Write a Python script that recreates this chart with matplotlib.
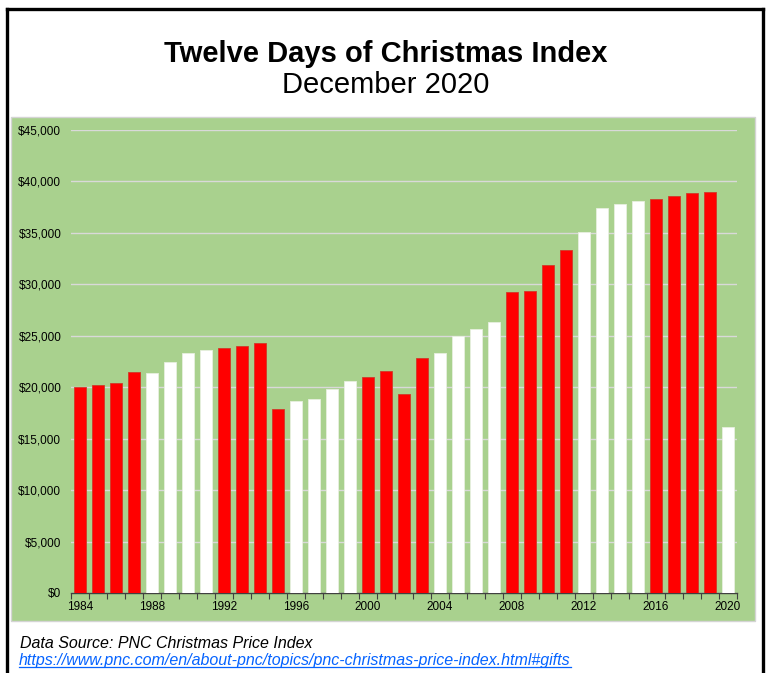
"""Twelve Days of Christmas Index bar chart."""

import matplotlib

matplotlib.use("Agg")
import matplotlib.pyplot as plt
from matplotlib.lines import Line2D
from matplotlib.patches import Rectangle
from matplotlib.ticker import FuncFormatter, MultipleLocator
import numpy as np

years = list(range(1984, 2021))
index_values = [
    20050, 20215, 20380, 21480, 21380, 22450, 23330, 23620, 23810, 24000,
    24300, 17880, 18660, 18850, 19830, 20600, 20960, 21580, 19370, 22840,
    23330, 24980, 25630, 26310, 29250, 29350, 31880, 33340, 35120, 37390,
    37780, 38100, 38290, 38580, 38880, 38940, 16130,
]
red_years = [1984, 1985, 1986, 1987, 1992, 1993, 1994, 1995, 2000, 2001,
             2002, 2003, 2008, 2009, 2010, 2011, 2016, 2017, 2018, 2019]
label_years = list(range(1984, 2021, 4))

W, H = 772, 673
fig = plt.figure(figsize=(W / 100, H / 100), dpi=100)
plt.rcParams["font.family"] = ["Liberation Sans", "DejaVu Sans"]


def fx(px):
    return px / W


def fy(py):
    return 1 - py / H


# outer frame (bottom edge runs off the picture)
for xs, ys in [((7, 7), (H + 5, 9)), ((7, 763), (9, 9)), ((763, 763), (9, H + 5))]:
    fig.add_artist(Line2D([fx(x) for x in xs], [fy(y) for y in ys],
                          color="black", linewidth=2.4, solid_capstyle="projecting"))

# green panel behind the plot
fig.add_artist(Rectangle((fx(11), fy(621)), fx(755) - fx(11), fy(117) - fy(621),
                         facecolor="#A9D18E", edgecolor="#D4D4D4", linewidth=1.0,
                         zorder=0))

fig.text(0.5, fy(62), "Twelve Days of Christmas Index", ha="center",
         va="baseline", fontsize=21, fontweight="bold")
fig.text(0.5, fy(93), "December 2020", ha="center", va="baseline", fontsize=21)

ax = fig.add_axes([fx(71), fy(593), fx(737) - fx(71), fy(130) - fy(593)])
ax.patch.set_alpha(0)
colors = ["#FF0000" if y in red_years else "#FFFFFF" for y in years]
edges = ["#D03A2A" if y in red_years else "#E8F0E0" for y in years]
ax.bar(years, index_values, width=0.64, color=colors, edgecolor=edges,
       linewidth=0.6, zorder=3)

ax.set_xlim(1983.5, 2020.5)
ax.set_ylim(0, 45000)
ax.yaxis.set_major_locator(MultipleLocator(5000))
ax.yaxis.set_major_formatter(FuncFormatter(lambda v, _: f"${v:,.0f}"))
ax.grid(axis="y", color="#D9D9D9", linewidth=1.0, zorder=1)
ax.set_axisbelow(True)

ax.set_xticks(label_years)
ax.set_xticks(np.arange(1983.5, 2021, 1.0), minor=True)
ax.tick_params(axis="x", which="major", length=0, pad=6, labelsize=8.5)
ax.tick_params(axis="x", which="minor", length=4, width=0.8, color="#404040",
               direction="out")
ax.tick_params(axis="y", length=0, pad=7, labelsize=8.5)

for side in ["top", "right", "left"]:
    ax.spines[side].set_visible(False)
ax.spines["bottom"].set_color("#404040")
ax.spines["bottom"].set_linewidth(1.0)

fig.text(fx(20), fy(648), "Data Source: PNC Christmas Price Index",
         ha="left", va="baseline", fontsize=11.5, fontstyle="italic")
link = fig.text(fx(19), fy(665),
                "https://www.pnc.com/en/about-pnc/topics/pnc-christmas-price-index.html#gifts",
                ha="left", va="baseline", fontsize=11.5, fontstyle="italic",
                color="#0563FF")
fig.canvas.draw()
bb = link.get_window_extent()
fig.add_artist(Line2D([bb.x0 / W, bb.x1 / W], [fy(667), fy(667)],
                      color="#0563FF", linewidth=0.9))

fig.savefig("out.png", dpi=100)
